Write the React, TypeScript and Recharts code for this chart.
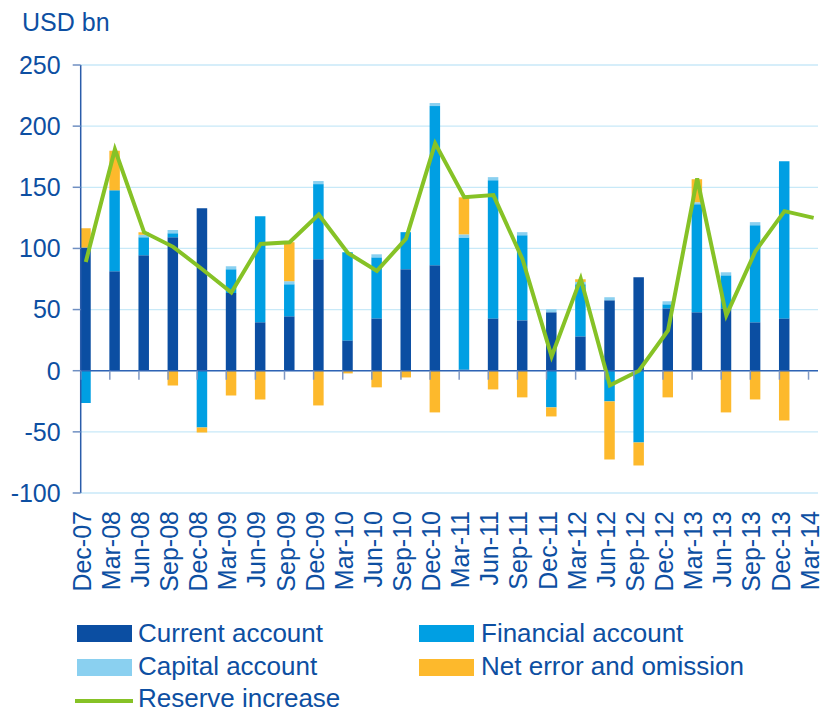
import React from "react";
import {
  ComposedChart,
  Bar,
  Line,
  Scatter,
  XAxis,
  YAxis,
  CartesianGrid,
  ReferenceLine,
} from "recharts";

const quarters = [
  "Dec-07", "Mar-08", "Jun-08", "Sep-08", "Dec-08", "Mar-09", "Jun-09", "Sep-09",
  "Dec-09", "Mar-10", "Jun-10", "Sep-10", "Dec-10", "Mar-11", "Jun-11", "Sep-11",
  "Dec-11", "Mar-12", "Jun-12", "Sep-12", "Dec-12", "Mar-13", "Jun-13", "Sep-13",
  "Dec-13", "Mar-14",
];

const currentAccount = [
  100.7, 81.3, 94.4, 109.2, 132.9, 63.5, 39.6, 44.5, 91.2, 24.8, 42.8, 83, 86.2,
  1, 42.8, 41.2, 47.8, 28.1, 57.6, 76.4, 51, 47.8, 51, 39.6, 42.8, null,
];
const financialAccount = [
  -26.5, 66.3, 14.7, 3.3, -46.4, 19.5, 86.8, 26.2, 61.4, 72.1, 49.9, 30.3, 130.2,
  108, 113, 69.6, -30, 42.6, -25.1, -58.7, 3.3, 88.4, 27, 79.4, 128.5, null,
];
const capitalAccount = [
  0, 0, 2, 2.5, 0, 2.5, 0, 2.5, 2.5, 0, 2.5, 0, 2.5, 2.5, 2.5, 2.5, 2.5, 1.9, 2.5,
  0, 2.5, 1.6, 2.5, 2.5, 0, null,
];
const netErrorOmission = [
  15.8, 32.2, 2.2, -12, -4.1, -20.2, -23.5, 31.9, -28.4, -2.2, -13.6, -5.5, -34.1,
  30.3, -15.3, -21.8, -7.4, 2.2, -47.5, -18.8, -21.8, 18.8, -34.1, -23.5, -40.7, null,
];
const reserveIncrease = [
  89, 181, 113.3, 101.3, 83, 63.9, 103.7, 105, 127.7, 96.3, 81.6, 108, 185.9,
  141.9, 143.6, 91.2, 11.7, 75.3, -12, 0, 33, 157.2, 45.3, 97.7, 130.5, 125,
];
const yTicks = [-100, -50, 0, 50, 100, 150, 200, 250];

const C_CUR = "#0B4EA2";
const C_FIN = "#009FE3";
const C_CAP = "#8AD0F0";
const C_NEO = "#FDB92C";
const C_RES = "#86C226";
const C_TXT = "#0D4FA2";
const FONT = "'Liberation Sans', Arial, sans-serif";

const TICK_SHIFT = 0.175;
const X_DOMAIN: [number, number] = [-TICK_SHIFT, 25.15];

const data = quarters.map((q, i) => ({
  idx: i,
  label: q,
  current: currentAccount[i],
  financial: financialAccount[i],
  capital: capitalAccount[i],
  neo: netErrorOmission[i],
  reserve: reserveIncrease[i],
}));

const zeroTicks = quarters.map((_, i) => ({ idx: i - TICK_SHIFT, zero: 0 }));

const XTick = (props: any) => {
  const { x, y, payload } = props;
  const label = quarters[payload.value];
  if (label === undefined) return null;
  return (
    <text
      x={x}
      y={y}
      dy="0.2em"
      transform={`rotate(-90, ${x}, ${y})`}
      textAnchor="end"
      fill={C_TXT}
      fontSize={25}
      fontFamily={FONT}
    >
      {label}
    </text>
  );
};

const ZeroTick = (props: any) => {
  const { cx, cy } = props;
  return <line x1={cx} x2={cx} y1={cy} y2={cy + 9} stroke="#7F98C4" strokeWidth={1.5} />;
};

const legendText: React.CSSProperties = {
  position: "absolute",
  fontFamily: FONT,
  fontSize: 26,
  lineHeight: "26px",
  color: C_TXT,
  whiteSpace: "nowrap",
};

const Swatch = ({ left, top, color }: { left: number; top: number; color: string }) => (
  <div style={{ position: "absolute", left, top, width: 55, height: 17, background: color }} />
);

export default function App() {
  return (
    <div style={{ position: "absolute", left: 0, top: 0, width: 822, height: 712, background: "#fff", overflow: "hidden" }}>
      <div style={{ ...legendText, fontSize: 25, lineHeight: "25px", left: 22, top: 10 }}>USD bn</div>
      <ComposedChart
        width={822}
        height={600}
        data={data}
        stackOffset="sign"
        margin={{ top: 65, right: 4, left: 0, bottom: 77 }}
      >
        <CartesianGrid vertical={false} stroke="#C8E9F8" strokeWidth={1.3} />
        <XAxis
          type="number"
          dataKey="idx"
          domain={X_DOMAIN}
          allowDataOverflow
          ticks={quarters.map((_, i) => i)}
          interval={0}
          axisLine={false}
          tickLine={false}
          tickSize={0}
          tickMargin={18}
          height={30}
          tick={<XTick />}
        />
        <XAxis
          xAxisId="zeroTicks"
          type="number"
          dataKey="idx"
          domain={X_DOMAIN}
          allowDataOverflow
          hide
          height={30}
        />
        <YAxis
          type="number"
          domain={[-100, 250]}
          ticks={yTicks}
          interval={0}
          width={80.7}
          tickSize={8}
          tickMargin={12}
          axisLine={{ stroke: "#2A5CAA", strokeWidth: 1.5 }}
          tickLine={{ stroke: "#6F8FC2", strokeWidth: 1.5 }}
          tick={{ fill: C_TXT, fontSize: 25, fontFamily: FONT }}
        />
        <ReferenceLine y={0} stroke="#2F63B4" strokeWidth={1.5} />
        <Bar dataKey="current" stackId="s" fill={C_CUR} barSize={10.5} isAnimationActive={false} />
        <Bar dataKey="financial" stackId="s" fill={C_FIN} barSize={10.5} isAnimationActive={false} />
        <Bar dataKey="capital" stackId="s" fill={C_CAP} barSize={10.5} isAnimationActive={false} />
        <Bar dataKey="neo" stackId="s" fill={C_NEO} barSize={10.5} isAnimationActive={false} />
        <Scatter
          xAxisId="zeroTicks"
          data={zeroTicks}
          dataKey="zero"
          shape={<ZeroTick />}
          isAnimationActive={false}
        />
        <Line
          type="linear"
          dataKey="reserve"
          stroke={C_RES}
          strokeWidth={4}
          dot={false}
          activeDot={false}
          isAnimationActive={false}
        />
      </ComposedChart>

      <Swatch left={77} top={625} color={C_CUR} />
      <div style={{ ...legendText, left: 138, top: 620 }}>Current account</div>
      <Swatch left={419} top={625} color={C_FIN} />
      <div style={{ ...legendText, left: 481, top: 620 }}>Financial account</div>
      <Swatch left={77} top={659} color={C_CAP} />
      <div style={{ ...legendText, left: 138, top: 653 }}>Capital account</div>
      <Swatch left={419} top={659} color={C_NEO} />
      <div style={{ ...legendText, left: 481, top: 653 }}>Net error and omission</div>
      <div style={{ position: "absolute", left: 75, top: 699, width: 58, height: 4, background: C_RES }} />
      <div style={{ ...legendText, left: 138, top: 685 }}>Reserve increase</div>
    </div>
  );
}
